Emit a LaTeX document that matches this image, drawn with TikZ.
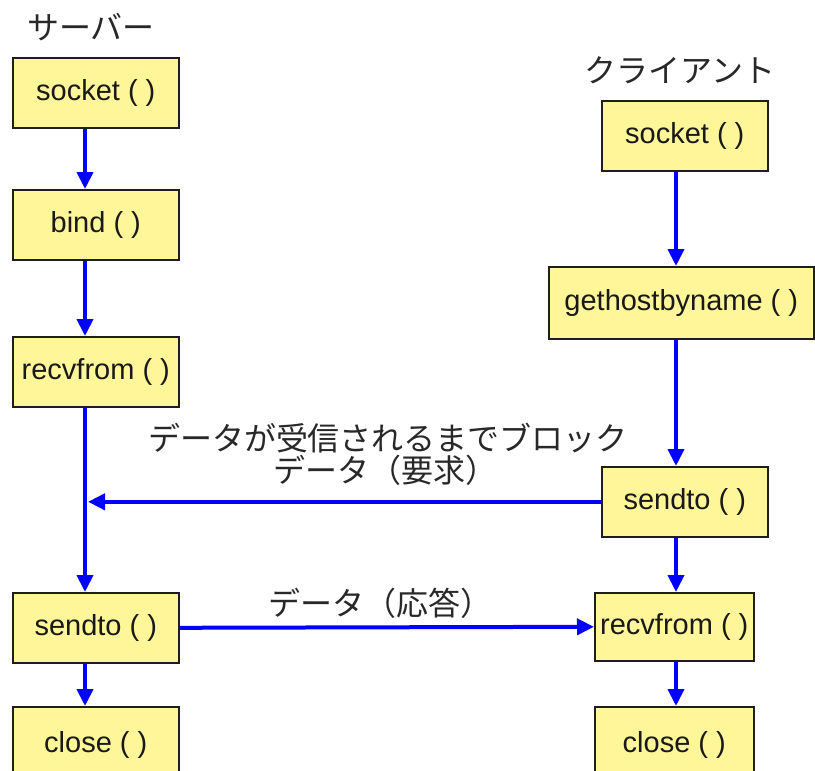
\documentclass[tikz,border=0pt]{standalone}
\usepackage{fontspec}
\setmainfont{Liberation Sans}
\newfontfamily\jp{Noto Sans CJK JP}
\usetikzlibrary{arrows.meta}
\definecolor{boxfill}{RGB}{255,246,153}
\definecolor{boxline}{RGB}{30,30,30}
\definecolor{txtgray}{RGB}{40,40,40}
\tikzset{
  fbox/.style={draw=boxline, line width=1.6pt, fill=boxfill, inner sep=0pt,
    anchor=north west, font=\fontsize{29}{32}\selectfont, text=black!90},
  wide/.style={minimum width=166pt, minimum height=70pt},
  arr/.style={draw=blue, line width=4pt, -{Triangle[length=17pt,width=16pt]}},
  lbl/.style={font=\jp\fontsize{32}{36}\selectfont, text=txtgray, inner sep=0pt}
}
\begin{document}
\begin{tikzpicture}[x=1pt,y=-1pt]
\useasboundingbox (0,0) rectangle (815,771);
\coordinate (sl) at (85,0);
\coordinate (cl) at (676,0);
% titles
\node[lbl] (stitle) at (91,27) {サーバー};
\node[lbl] (ctitle) at (680,70) {クライアント};
% server
\node[fbox, wide] (ssock) at (12,57) {socket ( )};
\node[fbox, wide] (sbind) at (12,189) {bind ( )};
\node[fbox, wide] (srecv) at (12,336) {recvfrom ( )};
\node[fbox, wide] (ssend) at (12,592) {sendto ( )};
\node[fbox, minimum width=166pt, minimum height=80pt] (sclose) at (12,706) {\raisebox{10pt}{close ( )}};
% client
\node[fbox, wide] (csock) at (601,100) {socket ( )};
\node[fbox, minimum width=265pt, minimum height=72pt] (chost) at (548,266) {gethostbyname ( )};
\node[fbox, wide] (csend) at (601,466) {sendto ( )};
\node[fbox, minimum width=159pt, minimum height=68pt] (crecv) at (594,592) {recvfrom ( )};
\node[fbox, minimum width=159pt, minimum height=80pt] (cclose) at (594,706) {\raisebox{10pt}{close ( )}};
% server arrows
\draw[arr] (ssock.south -| sl) -- (sbind.north -| sl);
\draw[arr] (sbind.south -| sl) -- (srecv.north -| sl);
\draw[arr] (srecv.south -| sl) -- (ssend.north -| sl);
\draw[arr] (ssend.south -| sl) -- (sclose.north -| sl);
% client arrows
\draw[arr] (csock.south -| cl) -- (chost.north -| cl);
\draw[arr] (chost.south -| cl) -- (csend.north -| cl);
\draw[arr] (csend.south -| cl) -- (crecv.north -| cl);
\draw[arr] (crecv.south -| cl) -- (cclose.north -| cl);
% horizontal
\coordinate (hit) at ([xshift=3pt]csend.west -| sl);
\draw[arr] (csend.west) -- (hit);
\draw[arr] (ssend.east) -- (crecv.west);
% labels
\node[lbl] (l1) at (388,438) {データが受信されるまでブロック};
\node[lbl] (l2) at (385,470) {データ（要求）};
\node[lbl] (l3) at (380,603) {データ（応答）};
\end{tikzpicture}
\end{document}
